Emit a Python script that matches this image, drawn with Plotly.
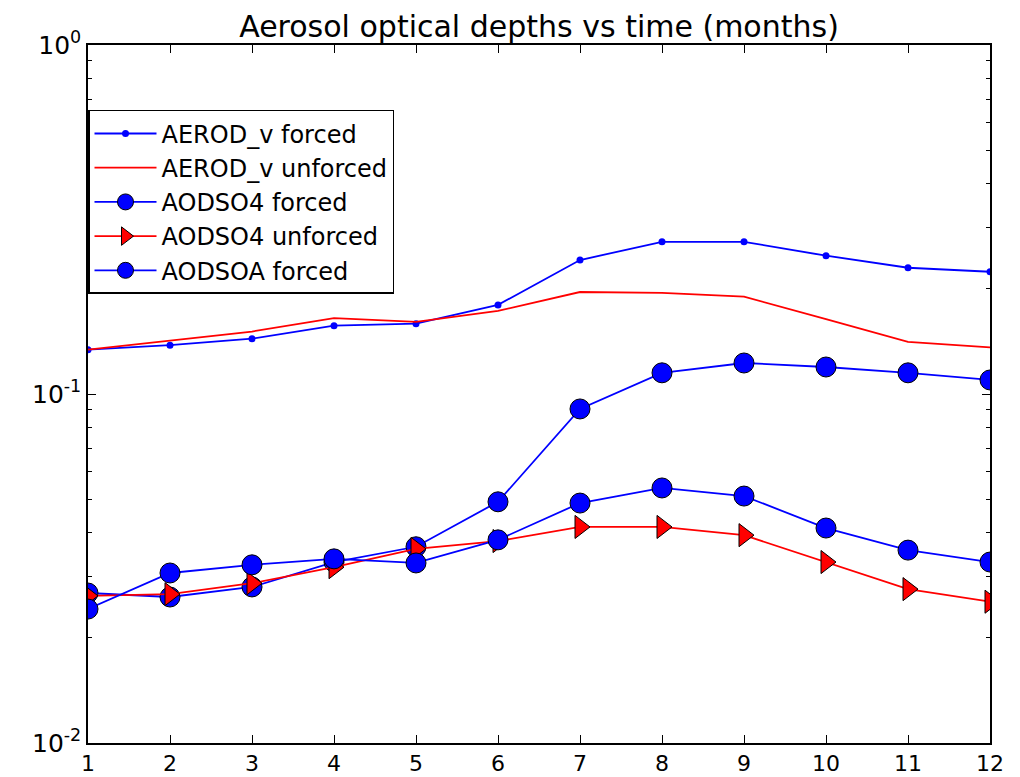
import plotly.graph_objects as go

months = [1, 2, 3, 4, 5, 6, 7, 8, 9, 10, 11, 12]
aerod_forced = [0.134, 0.138, 0.144, 0.157, 0.159, 0.180, 0.242, 0.273, 0.273, 0.249, 0.230, 0.224]
aerod_unforced = [0.134, 0.142, 0.151, 0.165, 0.161, 0.173, 0.196, 0.195, 0.190, 0.164, 0.141, 0.136]
aodso4_forced = [0.0269, 0.0262, 0.0280, 0.0330, 0.0365, 0.0491, 0.0906, 0.115, 0.1227, 0.1195, 0.115, 0.1097]
aodso4_unforced = [0.0264, 0.0267, 0.0287, 0.0319, 0.0360, 0.0379, 0.0416, 0.0416, 0.0394, 0.0330, 0.0276, 0.0254]
aodsoa_forced = [0.0242, 0.0307, 0.0324, 0.0337, 0.0328, 0.0382, 0.0487, 0.0538, 0.0510, 0.0413, 0.0357, 0.0330]

FONT = "DejaVu Sans"
LW = 1.8

fig = go.Figure()
fig.add_trace(go.Scatter(x=months, y=aerod_forced, name="AEROD_v forced", mode="lines+markers",
                         line=dict(color="blue", width=LW),
                         marker=dict(symbol="circle", size=7, color="blue", line=dict(width=0))))
fig.add_trace(go.Scatter(x=months, y=aerod_unforced, name="AEROD_v unforced", mode="lines",
                         line=dict(color="red", width=LW)))
fig.add_trace(go.Scatter(x=months, y=aodso4_forced, name="AODSO4 forced", mode="lines+markers",
                         line=dict(color="blue", width=LW),
                         marker=dict(symbol="circle", size=20, color="blue", line=dict(width=1, color="black"))))
fig.add_trace(go.Scatter(x=months, y=aodso4_unforced, name="AODSO4 unforced", mode="lines+markers",
                         line=dict(color="red", width=LW),
                         marker=dict(symbol="triangle-right", size=20, color="red", line=dict(width=1, color="black"))))
fig.add_trace(go.Scatter(x=months, y=aodsoa_forced, name="AODSOA forced", mode="lines+markers",
                         line=dict(color="blue", width=LW),
                         marker=dict(symbol="circle", size=20, color="blue", line=dict(width=1, color="black"))))

minor_vals = [m * 10 ** e for e in (-2, -1) for m in range(2, 10)]

# page body has an 8px margin, so the figure is shifted by 8px; compensate
W, H = 1012, 769
fig.update_layout(
    width=W, height=H,
    margin=dict(l=80, r=30, t=37, b=34, autoexpand=False),
    paper_bgcolor="white", plot_bgcolor="white",
    font=dict(family=FONT, color="black", size=24),
    title=dict(text="Aerosol optical depths vs time (months)", x=0.5, xref="paper",
               y=1 - 18 / H, yref="container", yanchor="middle", xanchor="center",
               font=dict(family=FONT, size=30, color="black")),
    showlegend=True,
    legend=dict(x=0.0, y=0.907, xanchor="left", yanchor="top",
                bgcolor="white", bordercolor="black", borderwidth=1.5,
                itemwidth=62,
                font=dict(family=FONT, size=24, color="black")),
)
fig.update_xaxes(range=[1, 12], tickmode="array", tickvals=months, ticktext=[str(m) for m in months],
                 ticks="inside", ticklen=8, tickcolor="black", tickwidth=1, automargin=False,
                 showline=True, linecolor="black", linewidth=1.5, mirror="ticks",
                 showgrid=False, zeroline=False, tickfont=dict(size=22))
fig.update_yaxes(type="log", range=[-2, 0], tickmode="array", tickvals=[0.01, 0.1, 1],
                 ticktext=["10<sup>-2</sup>", "10<sup>-1</sup>", "10<sup>0</sup>"],
                 ticks="inside", ticklen=8, tickcolor="black", tickwidth=1, automargin=False,
                 minor=dict(tickmode="array", tickvals=minor_vals, ticks="inside", ticklen=4,
                            tickcolor="black", tickwidth=1, showgrid=False),
                 showline=True, linecolor="black", linewidth=1.5, mirror="ticks",
                 showgrid=False, zeroline=False, tickfont=dict(size=25))

fig.write_html("out.html")
